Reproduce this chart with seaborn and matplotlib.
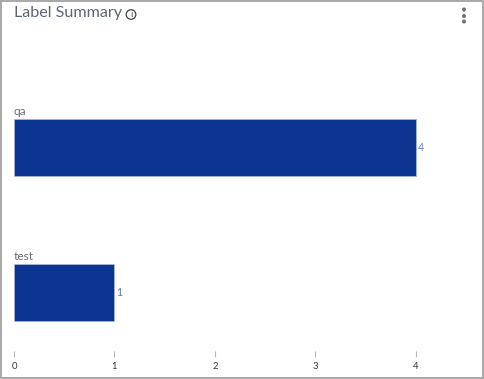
import matplotlib
matplotlib.use("Agg")
import matplotlib.pyplot as plt
from matplotlib.patches import Rectangle, Circle
import pandas as pd
import seaborn as sns

categories = ["qa", "test"]
counts = [4, 1]
x_ticks = [0, 1, 2, 3, 4]
title = "Label Summary"

W, H = 484, 379
sns.set_theme(style="white")
plt.rcParams["font.family"] = ["Lato", "DejaVu Sans"]

fig = plt.figure(figsize=(W / 100, H / 100), dpi=100, facecolor="white")

def fx(px): return px / W
def fy(py): return 1 - py / H

# axes box: x 14..468 px, y 75..351 px
ax = fig.add_axes([fx(14), fy(351), (468 - 14) / W, (351 - 75) / H])
df = pd.DataFrame({"label": categories, "count": counts})
sns.barplot(data=df, x="count", y="label", orient="h", color="#0a3490", saturation=1,
            width=57 / 145, edgecolor="#a9b9dc", linewidth=0.5, ax=ax)
ax.set_xlim(0, (468 - 14) / 100.5)
ax.set_ylim((351 - 147.5) / 145, (75 - 147.5) / 145)
for s in ax.spines.values():
    s.set_visible(False)
ax.set_xlabel("")
ax.set_ylabel("")
ax.set_yticks([])
ax.set_xticks(x_ticks)
ax.set_xticklabels([str(t) for t in x_ticks])
ax.tick_params(axis="x", direction="out", length=4.0, width=0.8, color="#b5b5b5",
               labelsize=6.8, labelcolor="#333333", pad=3.8, bottom=True)

for i, (c, v) in enumerate(zip(categories, counts)):
    ax.annotate(c, (0, i), xytext=(0, 30.5 * 0.72), textcoords="offset points",
                ha="left", va="bottom", fontsize=8.6, color="#707070")
    ax.annotate(str(v), (v, i), xytext=(1.5, 0), textcoords="offset points",
                ha="left", va="center", fontsize=7.6, color="#5b78bd")

fig.text(fx(14), fy(13), title, ha="left", va="center", fontsize=11.6, color="#5c6675")

# info icon
fig.add_artist(Circle((131 / 100, (H - 14.5) / 100), 0.048, transform=fig.dpi_scale_trans,
                      fill=False, edgecolor="#444444", linewidth=0.9))
fig.text(fx(131), fy(14.5), "i", ha="center", va="center", fontsize=6, color="#444444",
         family="DejaVu Sans")

# kebab menu
for py in (9.5, 16, 21.5):
    fig.add_artist(Circle((464 / 100, (H - py) / 100), 0.02, transform=fig.dpi_scale_trans,
                          facecolor="#707070", edgecolor="none"))

# card border
fig.add_artist(Rectangle((0.5 / W, 1.5 / H), (W - 2.0) / W, (H - 2.0) / H,
                         transform=fig.transFigure, fill=False, edgecolor="#a8a8a8", linewidth=1.4))

fig.savefig("out.png", dpi=100, facecolor="white")
